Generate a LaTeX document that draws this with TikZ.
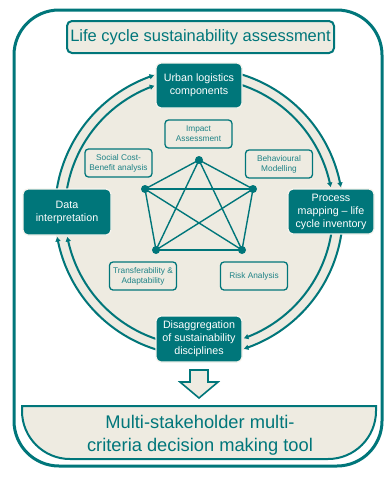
\documentclass[tikz,border=0pt]{standalone}
\usepackage{fontspec}
\setmainfont{Liberation Sans}
\usetikzlibrary{arrows.meta,calc}
\definecolor{tealc}{RGB}{0,118,122}
\definecolor{tealtext}{RGB}{30,130,134}
\definecolor{beige}{RGB}{238,235,225}
\definecolor{glow}{RGB}{246,244,238}
\begin{document}
\begin{tikzpicture}[x=1pt,y=-1pt,
  darkbox/.style={draw=glow, line width=1.2pt, fill=tealc, rounded corners=5pt, text=white, align=center,
    font=\fontsize{10.7}{13}\selectfont, minimum width=86pt, minimum height=45pt, inner sep=1pt},
  smallbox/.style={draw=tealc, line width=1.3pt, fill=beige, rounded corners=3.5pt, text=tealtext, align=center,
    font=\fontsize{8.3}{10}\selectfont, minimum width=67pt, minimum height=28pt, inner sep=1pt},
  dot/.style={circle, fill=tealc, minimum size=8pt, inner sep=0pt},
  kedge/.style={draw=tealc, line width=1.4pt},
  ring/.style={draw=tealc, line width=2pt, -{Triangle[length=4.5pt,width=5pt]}},
  titlebox/.style={draw=tealc, line width=2pt, fill=beige, rounded corners=5pt, text=tealc,
    font=\fontsize{16.5}{20}\selectfont, minimum width=267pt, minimum height=32pt, inner sep=0pt},
  bigtext/.style={text=tealc, align=center, font=\fontsize{18.3}{23}\selectfont, inner sep=0pt}
]
\useasboundingbox (0,0) rectangle (385,477);
% outer frame
\draw[tealc, line width=3pt, rounded corners=45pt] (14,10) rectangle (382,466);
% title
\node[titlebox] (title) at (200.5,37) {Life cycle sustainability assessment};
% circle
\coordinate (c) at (199,212);
\fill[beige] (c) circle[radius=145];
% rings
\foreach \r/\a/\b in {144/186/251.8, 134/186/250.5,
                      144/282/350, 134/282/349.25,
                      144/5/71.8, 134/5/70.4,
                      144/104/170, 134/104/169.25}
  \draw[ring] plot[domain=\a:\b, samples=60] ({199+\r*cos(\x)},{212+\r*sin(\x)});
% small boxes
\node[smallbox] (impact) at (198.5,134) {Impact\\Assessment};
\node[smallbox] (social) at (118.5,163) {Social Cost-\\Benefit analysis};
\node[smallbox] (behav) at (279,164) {Behavioural\\Modelling};
\node[smallbox] (transf) at (143,276) {Transferability \&\\Adaptability};
\node[smallbox] (risk) at (254,276) {Risk Analysis};
% pentagon
\node[dot] (p1) at (199,160) {};
\node[dot] (p2) at (253,189) {};
\node[dot] (p3) at (242,250) {};
\node[dot] (p4) at (156,250) {};
\node[dot] (p5) at (145,189) {};
\foreach \u/\v in {p1/p2,p1/p3,p1/p4,p1/p5,p2/p3,p2/p4,p2/p5,p3/p4,p3/p5,p4/p5}
  \draw[kedge] (\u.center) -- (\v.center);
% dark boxes
\node[darkbox] (urban) at (199,85.5) {Urban logistics\\components};
\node[darkbox] (process) at (331,211.5) {Process\\mapping -- life\\cycle inventory};
\node[darkbox, minimum width=88pt, minimum height=46pt] (data) at (67,212) {Data\\interpretation};
\node[darkbox, minimum height=46pt] (disagg) at (199,339) {Disaggregation\\of sustainability\\disciplines};
% down arrow
\draw[tealc, line width=1.6pt, fill=beige, line join=miter] (190,370) -- (208,370) -- (208,382) -- (218,382) -- (199,398) -- (180,382) -- (190,382) -- cycle;
% bottom tool shape
\draw[tealc, line width=2pt, fill=beige] (22,406) -- (376,406) -- (376,411)
  .. controls (376,437.5) and (354.5,459) .. (328,459) -- (70,459)
  .. controls (43.5,459) and (22,437.5) .. (22,411) -- cycle;
\node[bigtext] (tool) at (200,435) {Multi-stakeholder multi-\\criteria decision making tool};
\end{tikzpicture}
\end{document}
